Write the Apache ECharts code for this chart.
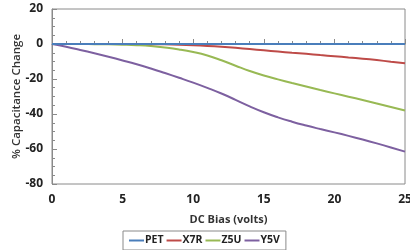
<!DOCTYPE html>
<html>
<head>
<meta charset="utf-8">
<script src="https://cdn.jsdelivr.net/npm/echarts@6/dist/echarts.min.js"></script>
<style>
  html, body { margin: 0; padding: 0; background: #fff; }
  #chart { width: 410px; height: 250px; }
</style>
</head>
<body>
<div id="chart"></div>
<script>
var volts = [0, 1, 2, 3, 4, 5, 6, 7, 8, 9, 10, 11, 12, 13, 14, 15, 16, 17, 18, 19, 20, 21, 22, 23, 24, 25];
var seriesNames = ['PET', 'X7R', 'Z5U', 'Y5V'];
var pet = [0, 0, 0, 0, 0, 0, 0, 0, 0, 0, 0, 0, 0, 0, 0, 0, 0, 0, 0, 0, 0, 0, 0, 0, 0, 0];
var x7r = [0, 0, 0, 0, 0, 0, 0, -0.1, -0.2, -0.4, -0.7, -1.1, -1.6, -2.2, -2.9, -3.6, -4.3, -5, -5.6, -6.3, -7, -7.7, -8.4, -9.2, -10.1, -11];
var z5u = [0, 0, 0, -0.1, -0.2, -0.4, -0.7, -1.2, -2, -3.1, -4.6, -6.6, -9.3, -12.4, -15.4, -18, -20.2, -22.3, -24.3, -26.3, -28.2, -30.1, -32, -34, -36, -38];
var y5v = [0, -1.6, -3.4, -5.3, -7.3, -9.4, -11.6, -14, -16.6, -19.3, -22.1, -25.1, -28.3, -31.9, -35.6, -39, -41.9, -44.4, -46.6, -48.6, -50.5, -52.5, -54.6, -56.8, -59.1, -61.5];
var colors = ['#4a7ebb', '#be4b48', '#98b954', '#7d60a0'];

function pairs(vals) {
    return volts.map(function (v, i) { return [v, vals[i]]; });
}

var font = '"Open Sans", "DejaVu Sans", sans-serif';
var el = document.getElementById('chart');
var chart = echarts.init(el, null, { renderer: 'canvas' });
var data = [pet, x7r, z5u, y5v];

chart.setOption({
    backgroundColor: '#fff',
    animation: false,
    textStyle: { fontFamily: font },
    grid: {
        left: 52, right: 5, top: 9, bottom: 66,
        outerBoundsMode: 'none', containLabel: false,
        show: true, borderColor: '#8a8a8a', borderWidth: 1
    },
    xAxis: {
        type: 'value',
        min: 0, max: 25, interval: 5,
        name: 'DC Bias (volts)',
        nameLocation: 'middle',
        nameGap: 30,
        nameMoveOverlap: false,
        nameTextStyle: { color: '#333', fontSize: 11, fontWeight: 'bold', fontFamily: font },
        axisLine: { lineStyle: { color: '#8a8a8a' } },
        axisTick: { inside: true, length: 5, lineStyle: { color: '#8a8a8a' } },
        minorTick: { show: true, splitNumber: 5, length: 3, lineStyle: { color: '#8a8a8a' } },
        axisLabel: { color: '#222', fontSize: 12, fontWeight: 'bold', margin: 10, fontFamily: font },
        splitLine: { show: false }
    },
    yAxis: {
        type: 'value',
        min: -80, max: 20, interval: 20,
        name: '% Capacitance Change',
        nameLocation: 'middle',
        nameGap: 29,
        nameMoveOverlap: false,
        nameTextStyle: { color: '#333', fontSize: 11.5, fontWeight: 600, fontFamily: font },
        axisLine: { show: true, lineStyle: { color: '#8a8a8a' } },
        axisTick: { show: true, inside: true, length: 5, lineStyle: { color: '#8a8a8a' } },
        minorTick: { show: true, splitNumber: 4, length: 3, lineStyle: { color: '#8a8a8a' } },
        axisLabel: { color: '#222', fontSize: 12, fontWeight: 'bold', margin: 9, fontFamily: font },
        splitLine: { show: false }
    },
    legend: {
        data: seriesNames,
        left: 123, top: 231,
        padding: [4, 6],
        itemGap: 3,
        itemWidth: 15, itemHeight: 14,
        borderColor: '#8a8a8a', borderWidth: 1,
        icon: 'path://M0,6 L15,6 L15,8 L0,8 Z',
        textStyle: { color: '#222', fontSize: 10.5, fontWeight: 'bold', fontFamily: font, padding: [0, 0, 0, -4] }
    },
    series: seriesNames.map(function (name, i) {
        return {
            name: name,
            type: 'line',
            data: pairs(data[i]),
            smooth: 0.5,
            showSymbol: false,
            color: colors[i],
            lineStyle: { width: 2, color: colors[i] },
            z: 10 - i
        };
    })
});
</script>
</body>
</html>
